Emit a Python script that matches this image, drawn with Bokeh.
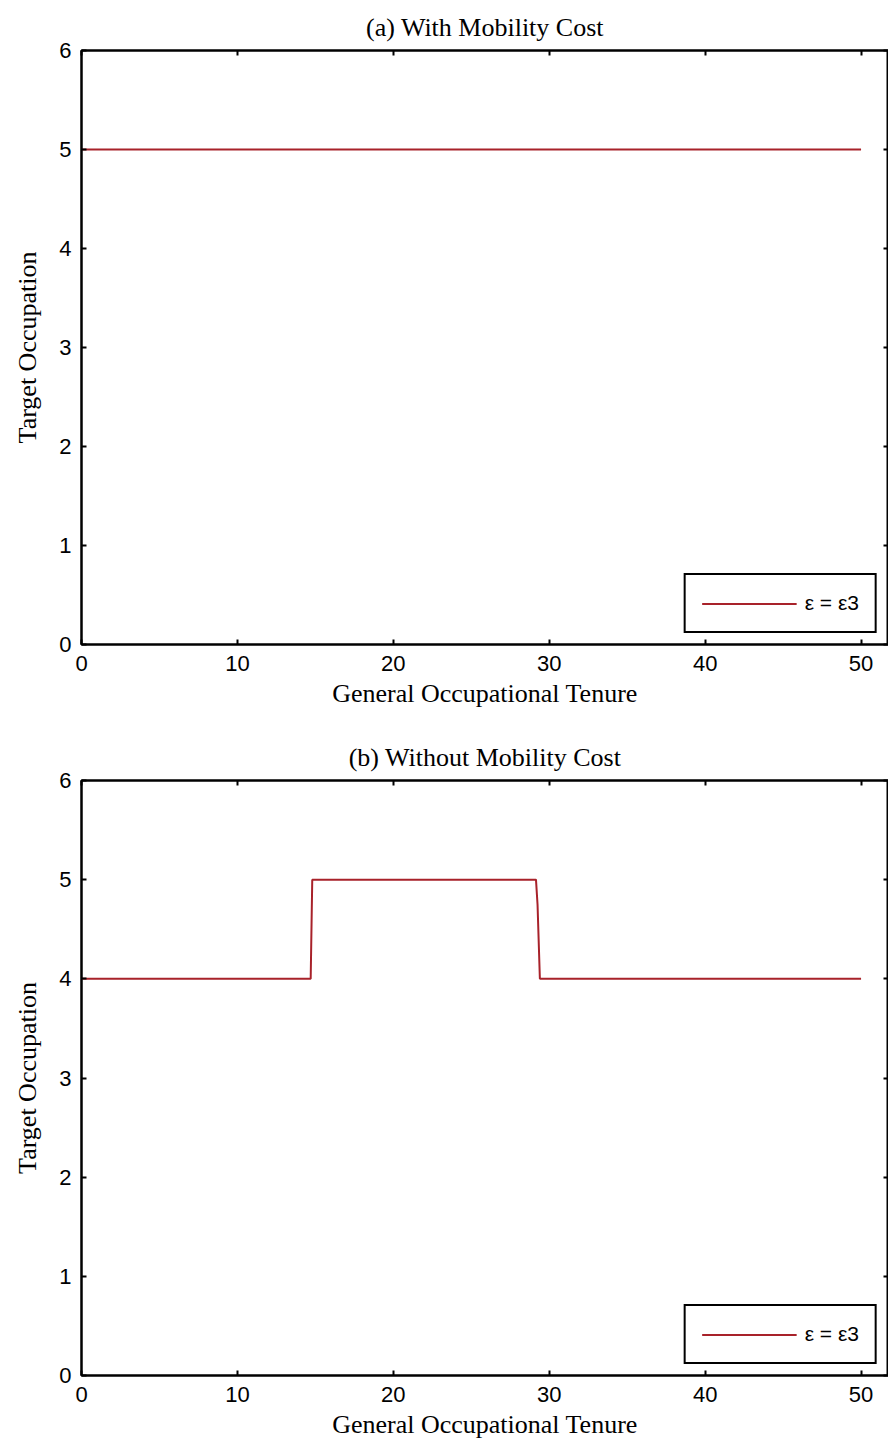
from bokeh.plotting import figure
from bokeh.models import Range1d, FixedTicker, LinearAxis, Legend, LegendItem
from bokeh.layouts import column
from bokeh.embed import file_html
from bokeh.resources import INLINE

# ---- data ----
x_ticks = [0, 10, 20, 30, 40, 50]
y_ticks = [0, 1, 2, 3, 4, 5, 6]

tenure_a = [0, 50]
target_a = [5, 5]

tenure_b = [0, 14.7, 14.8, 29.15, 29.25, 29.4, 50]
target_b = [4, 4, 5, 5, 4.75, 4, 4]

legend_label = "ε = ε3"
titles = ["(a) With Mobility Cost", "(b) Without Mobility Cost"]
x_label = "General Occupational Tenure"
y_label = "Target Occupation"

SERIF = "Liberation Serif"
SANS = "Liberation Sans"
RED = "#a8222a"


def make_panel(title, xs, ys, height, top, bottom):
    p = figure(width=888, height=height,
               x_range=Range1d(0, 51.76), y_range=Range1d(0, 6),
               output_backend="svg", toolbar_location=None,
               min_border_left=81, min_border_right=0,
               min_border_top=top, min_border_bottom=bottom,
               x_axis_label=x_label, y_axis_label=y_label)
    p.title.text = title
    p.title.align = "center"
    p.title.vertical_align = "top"
    p.title.text_font = SERIF
    p.title.text_font_size = "26px"
    p.title.text_font_style = "normal"
    p.title.text_color = "black"
    p.title.standoff = 14
    p.grid.visible = False
    p.outline_line_color = "black"
    p.outline_line_width = 2
    p.background_fill_color = "white"
    p.border_fill_color = "white"

    for ax, ticks in ((p.xaxis[0], x_ticks), (p.yaxis[0], y_ticks)):
        ax.ticker = FixedTicker(ticks=ticks)
        ax.major_tick_in = 5
        ax.major_tick_out = 0
        ax.minor_tick_line_color = None
        ax.axis_line_color = "black"
        ax.axis_line_width = 2
        ax.major_tick_line_width = 2
        ax.major_label_text_font = SANS
        ax.major_label_text_font_size = "22px"
        ax.major_label_text_color = "black"
        ax.axis_label_text_font = SERIF
        ax.axis_label_text_font_size = "26px"
        ax.axis_label_text_font_style = "normal"
        ax.axis_label_text_color = "black"
    p.xaxis[0].major_label_standoff = 11
    p.xaxis[0].axis_label_standoff = 5
    p.yaxis[0].major_label_standoff = 10
    p.yaxis[0].axis_label_standoff = 14

    for loc, ticks in (("right", y_ticks), ("above", x_ticks)):
        ax = LinearAxis(ticker=FixedTicker(ticks=ticks),
                        major_label_text_font_size="1px",
                        major_label_text_color=None,
                        major_label_standoff=0,
                        major_tick_in=5, major_tick_out=0,
                        major_tick_line_width=2,
                        minor_tick_line_color=None,
                        axis_line_color="black", axis_line_width=2)
        p.add_layout(ax, loc)

    r = p.line(xs, ys, line_color=RED, line_width=2)
    leg = Legend(items=[LegendItem(label=legend_label, renderers=[r])],
                 location="bottom_right", margin=11,
                 glyph_width=95, glyph_height=17, label_height=17,
                 label_standoff=8, padding=16, spacing=0,
                 label_text_font=SANS, label_text_font_size="21px",
                 label_text_color="black",
                 border_line_color="black", border_line_width=2,
                 border_line_alpha=1.0,
                 background_fill_color="white", background_fill_alpha=1.0)
    p.add_layout(leg, "center")
    return p


p1 = make_panel(titles[0], tenure_a, target_a, 725, 50, 81)
p2 = make_panel(titles[1], tenure_b, target_b, 724, 55, 74)

layout = column(p1, p2, spacing=0)
open("out.html", "w").write(file_html(layout, INLINE))
